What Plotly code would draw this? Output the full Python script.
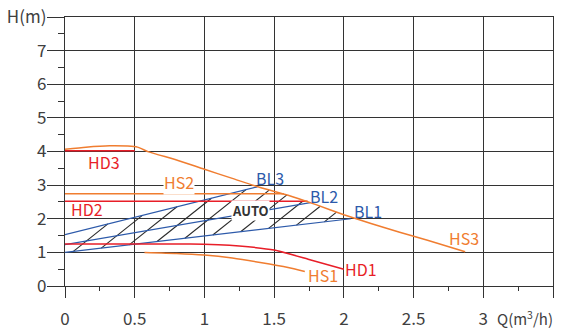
import numpy as np
import plotly.graph_objects as go

# ---- data ----
x_ticks = [0, 0.5, 1, 1.5, 2, 2.5, 3, 3.5]
x_tick_labels = ["0", "0.5", "1", "1.5", "2", "2.5", "3", " "]
y_ticks = [0, 1, 2, 3, 4, 5, 6, 7, 8]
y_tick_labels = ["0", "1", "2", "3", "4", "5", "6", "7", "H(m)"]

hs3_q = [0, 0.15, 0.32, 0.45, 0.52, 0.6, 0.8, 1.0, 1.2, 1.4, 1.6, 1.8, 2.0, 2.2, 2.4, 2.6, 2.87]
hs3_h = [4.07, 4.13, 4.17, 4.16, 4.13, 3.99, 3.75, 3.47, 3.2, 2.93, 2.7, 2.42, 2.12, 1.85, 1.6, 1.36, 1.02]

hs2_q = [0, 1.57]
hs2_h = [2.74, 2.74]

hs1_q = [0.57, 0.8, 1.0, 1.2, 1.4, 1.6, 1.72]
hs1_h = [1.0, 0.97, 0.92, 0.83, 0.7, 0.55, 0.43]

hd3_q = [0, 0.5]
hd3_h = [4.02, 4.02]

hd2_q = [0, 1.74]
hd2_h = [2.52, 2.52]

hd1_q = [0, 0.9, 1.1, 1.25, 1.5, 1.75, 2.0]
hd1_h = [1.25, 1.25, 1.23, 1.19, 1.07, 0.79, 0.5]

bl3_q = [0, 1.38]
bl3_h = [1.53, 2.95]
bl2_q = [0, 1.76]
bl2_h = [1.23, 2.48]
bl1_q = [0, 2.05]
bl1_h = [1.0, 2.0]

ORANGE = "rgb(240,125,48)"
RED = "rgb(232,30,40)"
BLUE = "rgb(45,90,170)"
GRID = "#333333"
TEXT = "#404040"
FONT = "Noto Sans CJK SC"

fig = go.Figure()

# ---- hatching of the AUTO zone (between BL1 and the upper envelope) ----
qq = np.linspace(0, 2.05, 2000)
upper = np.where(qq <= bl3_q[-1], np.interp(qq, bl3_q, bl3_h), np.interp(qq, hs3_q, hs3_h))
hx, hy = [], []
slope = 3.3
for q0 in np.arange(0.06, 2.05, 0.2):
    y0 = np.interp(q0, bl1_q, bl1_h)
    line = y0 + slope * (qq - q0)
    mask = (qq >= q0) & (line <= upper)
    if mask.sum() < 2:
        continue
    q1 = qq[mask].max()
    hx += [q0, q1, None]
    hy += [y0, y0 + slope * (q1 - q0), None]
fig.add_trace(go.Scatter(x=hx, y=hy, mode="lines", line=dict(color="#2a2a2a", width=1.1), hoverinfo="skip"))

for q, h in [(bl1_q, bl1_h), (bl2_q, bl2_h), (bl3_q, bl3_h)]:
    fig.add_trace(go.Scatter(x=q, y=h, mode="lines", line=dict(color=BLUE, width=1.2)))

for q, h, c, shape in [
    (hs2_q, hs2_h, ORANGE, "linear"),
    (hd2_q, hd2_h, RED, "linear"),
    (hd3_q, hd3_h, RED, "linear"),
    (hd1_q, hd1_h, RED, "spline"),
    (hs1_q, hs1_h, ORANGE, "spline"),
    (hs3_q, hs3_h, ORANGE, "spline"),
]:
    fig.add_trace(go.Scatter(x=q, y=h, mode="lines", line=dict(color=c, width=1.5, shape=shape, smoothing=0.5)))

labels = [
    ("HD3", 0.28, 3.69, RED, None),
    ("HS3", 2.86, 1.43, ORANGE, None),
    ("HS2", 0.82, 3.08, ORANGE, "white"),
    ("HD2", 0.16, 2.29, RED, None),
    ("BL3", 1.47, 3.2, BLUE, None),
    ("BL2", 1.86, 2.68, BLUE, None),
    ("BL1", 2.17, 2.23, BLUE, None),
    ("HD1", 2.12, 0.5, RED, None),
    ("HS1", 1.85, 0.33, ORANGE, None),
]
for t, x, y, c, bg in labels:
    fig.add_annotation(x=x, y=y, text=t, showarrow=False, font=dict(family=FONT, size=16, color=c),
                       bgcolor=bg, borderpad=0)
fig.add_annotation(x=1.33, y=2.26, text="<b>AUTO</b>", showarrow=False, font=dict(family=FONT, size=13, color="#333333"),
                   bgcolor="white", borderpad=0)
fig.add_annotation(x=1.0, xref="paper", xanchor="right", xshift=2, y=0, yref="paper", yanchor="middle", yshift=-32,
                   text="Q(m<sup>3</sup>/h)", showarrow=False, font=dict(family=FONT, size=15, color=TEXT))

fig.update_layout(
    width=563, height=329, margin=dict(l=65, r=10, t=17, b=43),
    paper_bgcolor="white", plot_bgcolor="white", showlegend=False,
    font=dict(family=FONT, size=16, color=TEXT),
    xaxis=dict(range=[0, 3.5], tickmode="array", tickvals=x_ticks, ticktext=x_tick_labels, automargin=False,
               showgrid=True, gridcolor=GRID, gridwidth=1.4, zeroline=False,
               showline=True, linecolor=GRID, linewidth=1.4, mirror=True,
               ticks="outside", ticklen=11, tickwidth=1.4, tickcolor=GRID, ticklabelstandoff=6,
               ticklabeloverflow="allow",
               tickfont=dict(family=FONT, size=17, color=TEXT),
               minor=dict(tickmode="array", tickvals=[0.25, 0.75, 1.25, 1.75, 2.25, 2.75, 3.25],
                          ticks="outside", ticklen=4, tickwidth=1.4, tickcolor=GRID, showgrid=False)),
    yaxis=dict(range=[0, 8], tickmode="array", tickvals=y_ticks, ticktext=y_tick_labels, automargin=False,
               showgrid=True, gridcolor=GRID, gridwidth=1.4, zeroline=False,
               showline=True, linecolor=GRID, linewidth=1.4, mirror=True,
               ticks="outside", ticklen=17, tickwidth=1.4, tickcolor=GRID, ticklabelstandoff=-3,
               ticklabeloverflow="allow",
               tickfont=dict(family=FONT, size=17, color=TEXT),
               minor=dict(tickmode="array", tickvals=[0.5, 1.5, 2.5, 3.5, 4.5, 5.5, 6.5, 7.5],
                          ticks="outside", ticklen=6, tickwidth=1.4, tickcolor=GRID, showgrid=False)),
)

# remove the default 8px page margin so the figure fills the window exactly
fig.write_html("out.html", config={"displayModeBar": False},
               post_script="document.body.style.margin='0';document.body.style.overflow='hidden';")
